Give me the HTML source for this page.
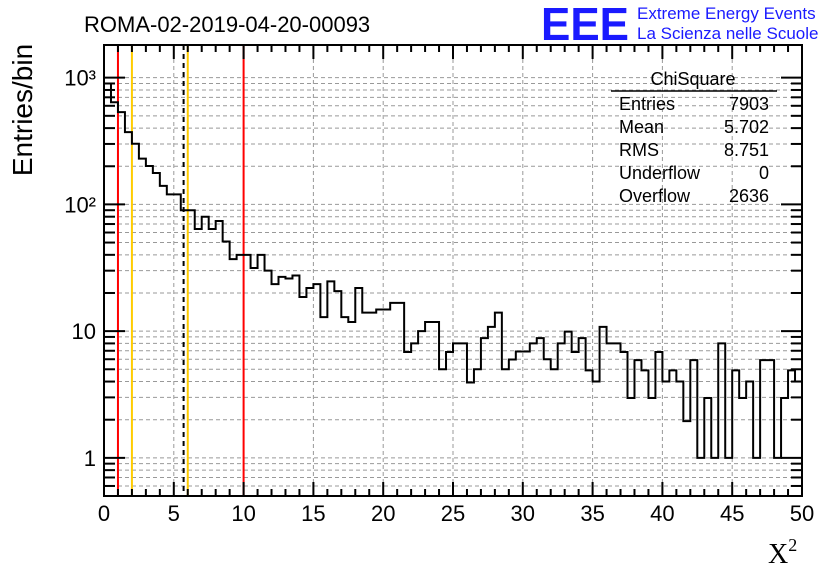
<!DOCTYPE html>
<html><head><meta charset="utf-8"><style>
body{margin:0;background:#fff;}
svg{display:block;font-family:"Liberation Sans",sans-serif;}
</style></head><body>
<svg id="chart" width="836" height="572" viewBox="0 0 836 572" xmlns="http://www.w3.org/2000/svg">
<rect width="836" height="572" fill="#fff"/>
<g id="grid"></g>
<g id="lines"></g>
<path id="hist" fill="none" stroke="#000" stroke-width="2"/>
<g id="axes"></g>
<text x="84" y="32" font-size="22">ROMA-02-2019-04-20-00093</text>
<text x="541" y="40" font-size="46" font-weight="bold" fill="#1a1aff" textLength="88" lengthAdjust="spacingAndGlyphs">EEE</text>
<text x="637" y="19" font-size="17" fill="#1a1aff">Extreme Energy Events</text>
<text x="637" y="39" font-size="17" fill="#1a1aff">La Scienza nelle Scuole</text>
<text transform="translate(32,110) rotate(-90)" text-anchor="middle" font-size="28">Entries/bin</text>
<text x="768" y="563" font-size="28" font-family="Liberation Serif, serif">X<tspan font-size="18" dy="-12">2</tspan></text>
<g font-size="18">
<text x="693" y="85" text-anchor="middle">ChiSquare</text>
<line x1="611" y1="91" x2="777" y2="91" stroke="#000" stroke-width="1.5"/>
<text x="619" y="110">Entries</text><text x="769" y="110" text-anchor="end">7903</text>
<text x="619" y="133">Mean</text><text x="769" y="133" text-anchor="end">5.702</text>
<text x="619" y="156">RMS</text><text x="769" y="156" text-anchor="end">8.751</text>
<text x="619" y="179">Underflow</text><text x="769" y="179" text-anchor="end">0</text>
<text x="619" y="202">Overflow</text><text x="769" y="202" text-anchor="end">2636</text>
</g>
</svg>
<script>
const counts=[900,640,535,372,301,230,201,177,140,120,120,90,90,64,80,64,74,51,37,40,40,31.5,40,30,23.5,26.8,26,27.5,18.6,21.9,23.5,12.9,24.7,20.7,12.9,11.8,21.9,14,14,14.8,14.8,16.7,16.7,6.85,8,10,11.8,11.8,5,6.85,8,8,3.93,5,8.8,10.8,14,5,5.97,6.9,6.9,8,8.8,6,5,8,9.9,6.85,8.8,4.9,4,10.8,8,8,6.85,2.97,5.9,4.9,2.97,6.85,4,4.9,4,1.95,5.9,1,2.97,1,8,1,4.9,2.97,4,1,5.9,5.9,1,2.97,4.9,4];
const binWidth=0.5;
const xTicks=[0,5,10,15,20,25,30,35,40,45,50];
const yDecades=[1,10,100,1000];
const yDecadeLabels=["1","10","10²","10³"];
const refLines=[{x:1,c:"#ff0000",d:""},{x:2,c:"#ffcc00",d:""},{x:5.702,c:"#000",d:"5,4"},{x:6,c:"#ffcc00",d:""},{x:10,c:"#ff0000",d:""}];
const L=104,R=802,T=45,B=496,xmin=0,xmax=50,ymin=0.5,ymax=1811;
const X=v=>L+(v-xmin)/(xmax-xmin)*(R-L);
const Y=v=>B-(Math.log10(v)-Math.log10(ymin))/(Math.log10(ymax)-Math.log10(ymin))*(B-T);
const NS="http://www.w3.org/2000/svg";
function mk(tag,attrs,parent){const e=document.createElementNS(NS,tag);for(const k in attrs)e.setAttribute(k,attrs[k]);parent.appendChild(e);return e;}
const grid=document.getElementById('grid'),axes=document.getElementById('axes'),lines=document.getElementById('lines');
for(const t of xTicks){if(t===0||t===50)continue;const g=mk('line',{x1:X(t),x2:X(t),y1:T,y2:B,stroke:'#999','stroke-dasharray':'4,3','stroke-width':1},grid);

}
for(let d=0.1;d<=1000;d*=10){for(let m=1;m<10;m++){const v=d*m;if(v<ymin||v>ymax)continue;const y=Y(v);
const g=mk('line',{x1:L,x2:R,y1:y,y2:y,stroke:'#999','stroke-dasharray':'4,3','stroke-width':1},grid);


const lt=m===1?21:11;
mk('line',{x1:L,x2:L+lt,y1:y,y2:y,stroke:'#000','stroke-width':2},axes);
mk('line',{x1:R,x2:R-lt,y1:y,y2:y,stroke:'#000','stroke-width':2},axes);}}
for(const r of refLines){const l=mk('line',{x1:X(r.x),x2:X(r.x),y1:T,y2:B,stroke:r.c,'stroke-width':2},lines);if(r.d)l.setAttribute('stroke-dasharray',r.d);

}
let d=`M${X(0)},${Y(counts[0])}`;
counts.forEach((c,i)=>{const y=Y(Math.max(c,ymin));d+=` L${X(i*binWidth)},${y} L${X((i+1)*binWidth)},${y}`;});
document.getElementById('hist').setAttribute('d',d);
for(let v=0;v<=50;v++){const maj=v%5===0,lt=maj?14:7;
mk('line',{x1:X(v),x2:X(v),y1:B,y2:B-lt,stroke:'#000','stroke-width':2},axes);
mk('line',{x1:X(v),x2:X(v),y1:T,y2:T+lt,stroke:'#000','stroke-width':2},axes);}
for(const t of xTicks){const tx=mk('text',{x:X(t),y:521,'text-anchor':'middle','font-size':22},axes);tx.textContent=t;

}
yDecades.forEach((v,i)=>{const tx=mk('text',{x:96,y:Y(v)+8,'text-anchor':'end','font-size':22},axes);tx.textContent=yDecadeLabels[i];

});
const fr=mk('rect',{x:L,y:T,width:R-L,height:B-T,fill:'none',stroke:'#000','stroke-width':2},axes);


</script>
</body></html>
